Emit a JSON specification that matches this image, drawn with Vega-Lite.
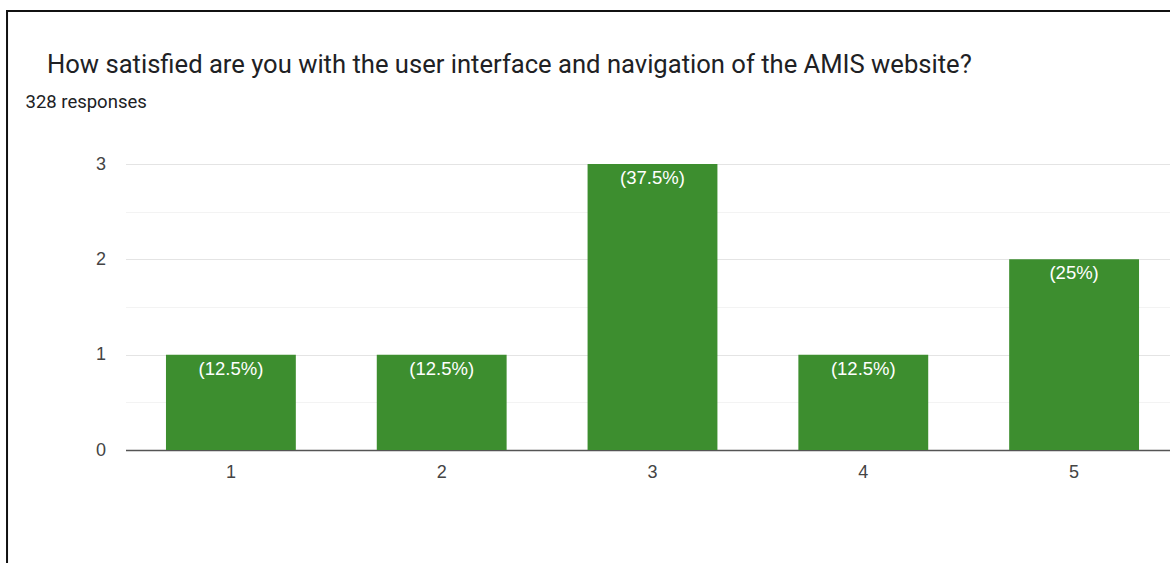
{
  "$schema": "https://vega.github.io/schema/vega-lite/v6.json",
  "width": 1054,
  "height": 286,
  "autosize": {"type": "none"},
  "padding": {"left": 125.5, "top": 164, "right": -9.5, "bottom": 113},
  "background": "white",
  "config": {
    "view": {"stroke": null},
    "axis": {"labelFont": "Liberation Sans", "labelFontSize": 18, "labelColor": "#444444"}
  },
  "title": {
    "text": "How satisfied are you with the user interface and navigation of the AMIS website?",
    "anchor": "start",
    "frame": "group",
    "dx": -78.5,
    "offset": -89,
    "baseline": "alphabetic",
    "font": "Roboto",
    "fontSize": 25.6,
    "fontWeight": "normal",
    "color": "#202124"
  },
  "data": {
    "values": [
      {"rating": "1", "count": 1, "label": "(12.5%)"},
      {"rating": "2", "count": 1, "label": "(12.5%)"},
      {"rating": "3", "count": 3, "label": "(37.5%)"},
      {"rating": "4", "count": 1, "label": "(12.5%)"},
      {"rating": "5", "count": 2, "label": "(25%)"}
    ]
  },
  "layer": [
    {
      "encoding": {
        "x": {
          "field": "rating",
          "type": "nominal",
          "scale": {"paddingInner": 0.384, "paddingOuter": 0.192},
          "axis": {
            "title": null,
            "labelAngle": 0,
            "labelFont": "Liberation Sans",
            "labelFontSize": 18,
            "labelColor": "#444444",
            "ticks": false,
            "tickSize": 0,
            "labelPadding": 13,
            "grid": false,
            "domainColor": "#555555",
            "domainWidth": 1.5
          }
        },
        "y": {
          "field": "count",
          "type": "quantitative",
          "scale": {"domain": [0, 3], "nice": false},
          "axis": {
            "values": [0, 0.5, 1, 1.5, 2, 2.5, 3],
            "labelExpr": "datum.value % 1 === 0 ? format(datum.value, 'd') : ''",
            "grid": true,
            "gridColor": {"condition": {"test": "datum.value % 1 === 0", "value": "#e4e4e4"}, "value": "#f3f3f3"},
            "domain": false,
            "ticks": false,
            "labelPadding": 20,
            "labelFont": "Liberation Sans",
            "labelFontSize": 18,
            "labelColor": "#444444",
            "title": "328 responses",
            "titleAngle": 0,
            "titleX": -100.5,
            "titleY": -63,
            "titleAlign": "left",
            "titleBaseline": "middle",
            "titleFont": "Roboto",
            "titleFontSize": 18.5,
            "titleFontWeight": "normal",
            "titleColor": "#202124"
          }
        }
      },
      "layer": [
        {"mark": {"type": "bar", "color": "#3d8e2f"}},
        {
          "mark": {"type": "text", "color": "white", "font": "Liberation Sans", "fontSize": 18.5, "baseline": "middle", "dy": 14},
          "encoding": {"text": {"field": "label"}}
        }
      ]
    },
    {
      "data": {"values": [{"frame": "outer"}]},
      "mark": {"type": "rect", "fillOpacity": 0, "stroke": "#111111", "strokeWidth": 2},
      "encoding": {
        "x": {"datum": -0.1124, "type": "quantitative", "scale": {"domain": [0, 1], "nice": false, "zero": false}, "axis": null},
        "x2": {"datum": 1.2},
        "y": {"datum": 4.605, "type": "quantitative"},
        "y2": {"datum": -3}
      }
    }
  ],
  "resolve": {"scale": {"x": "independent"}, "axis": {"x": "independent"}}
}
